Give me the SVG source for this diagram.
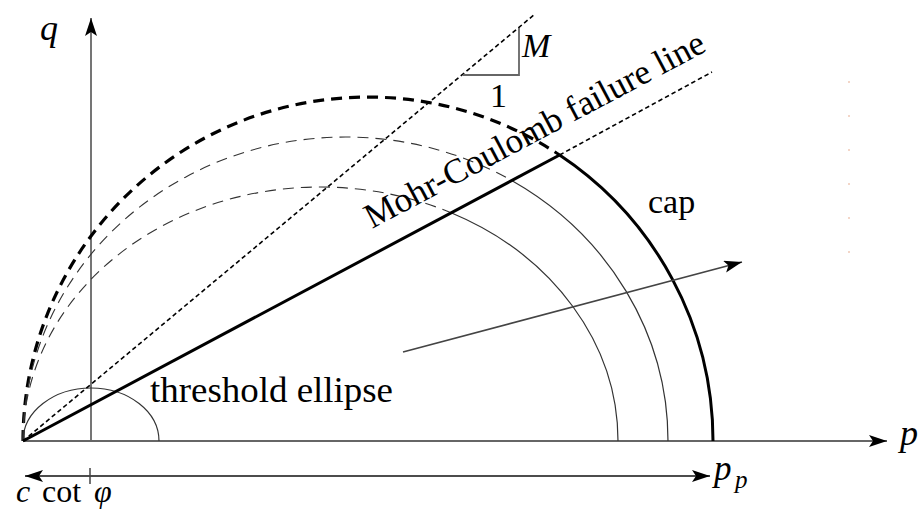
<svg xmlns="http://www.w3.org/2000/svg" width="924" height="511" viewBox="0 0 924 511">
<style>
.t{font-family:"Liberation Serif","Times New Roman",serif;fill:#000}
.i{font-style:italic}
.ax{stroke:#666;stroke-width:1.8;fill:none}
.thin{stroke:#333;stroke-width:1.2;fill:none}
.thindash{stroke:#333;stroke-width:1.1;fill:none;stroke-dasharray:11 7}
.thick{stroke:#000;stroke-width:3;fill:none}
.thickdash{stroke:#000;stroke-width:3.2;fill:none;stroke-dasharray:11 7}
.dot{stroke:#000;stroke-width:1.6;fill:none;stroke-dasharray:4.5 3}
</style>
<defs>
<marker id="ah" markerUnits="userSpaceOnUse" markerWidth="20" markerHeight="14" refX="18" refY="6" orient="auto">
<path d="M0,0 L18,6 L0,12 L4,6 z" fill="#000"/>
</marker>
<marker id="ahs" markerUnits="userSpaceOnUse" markerWidth="20" markerHeight="14" refX="18" refY="6" orient="auto-start-reverse">
<path d="M0,0 L18,6 L0,12 L4,6 z" fill="#000"/>
</marker>
</defs>
<g id="axes">
<line class="ax" x1="23" y1="441" x2="887" y2="441" marker-end="url(#ah)"/>
<line class="ax" x1="91" y1="441" x2="91" y2="18" marker-end="url(#ah)"/>
</g>
<g id="ellipses">
<path class="thickdash" d="M23,441 A345,344 0 0 1 559.6,155"/>
<path class="thick" d="M559.6,155 A345,344 0 0 1 713,441"/>
<path class="thindash" d="M23,441 A322.5,304 0 0 1 511.7,180.5"/>
<path class="thin" d="M511.7,180.5 A322.5,304 0 0 1 668,441"/>
<path class="thindash" d="M23,441 A297.5,254 0 0 1 451.1,212.8"/>
<path class="thin" d="M451.1,212.8 A297.5,254 0 0 1 618,441"/>
<path class="thin" d="M23,441 A68,53 0 0 1 159,441"/>
</g>
<g id="lines">
<line class="thick" x1="23" y1="441" x2="559.6" y2="155"/>
<line class="dot" x1="559.6" y1="155" x2="712" y2="72"/>
<line class="dot" x1="23" y1="441" x2="535" y2="14"/>
<polyline points="463,75 519,75 519,28" stroke="#666" stroke-width="1.8" fill="none"/>
<line x1="403" y1="352" x2="742" y2="262" stroke="#444" stroke-width="1.6" marker-end="url(#ah)"/>
<line x1="25" y1="476" x2="710" y2="476" stroke="#111" stroke-width="1.5" marker-start="url(#ahs)" marker-end="url(#ah)"/>
<line x1="90" y1="468" x2="90" y2="484" stroke="#444" stroke-width="1.5"/>
</g>
<g id="labels">
<text class="t i" x="40" y="40" font-size="36">q</text>
<text class="t i" x="900" y="445" font-size="36">p</text>
<text class="t i" x="714" y="480" font-size="35">p</text>
<text class="t i" x="735" y="488" font-size="25">p</text>
<text class="t i" x="16" y="502" font-size="32">c</text>
<text class="t" x="42" y="502" font-size="32">cot</text>
<text class="t i" x="94" y="502" font-size="32">φ</text>
<text class="t i" x="522" y="57" font-size="34">M</text>
<text class="t" x="490" y="107" font-size="34">1</text>
<text class="t" x="648" y="213" font-size="34">cap</text>
<text class="t" x="150" y="402" font-size="35" textLength="243" lengthAdjust="spacingAndGlyphs">threshold ellipse</text>
<text class="t" x="372" y="229" font-size="35" transform="rotate(-28 372 229)">Mohr-Coulomb failure line</text>
</g>
<g id="specks" fill="#f3d6c8">
<rect x="848" y="81" width="2" height="2"/>
<rect x="848" y="115" width="2" height="2"/>
<rect x="848" y="149" width="2" height="2"/>
<rect x="848" y="183" width="2" height="2"/>
<rect x="848" y="217" width="2" height="2"/>
<rect x="848" y="251" width="2" height="2"/>
</g>
</svg>
